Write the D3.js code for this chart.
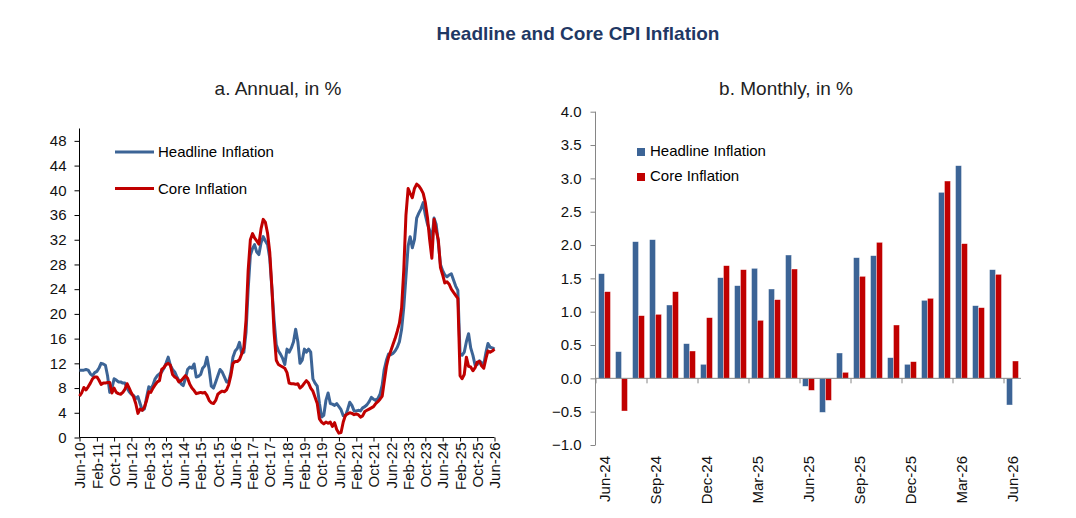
<!DOCTYPE html>
<html>
<head>
<meta charset="utf-8">
<script src="https://cdn.jsdelivr.net/npm/d3@7"></script>
<style>
  body { margin: 0; background: #fff; }
  svg { font-family: "Liberation Sans", Arial, sans-serif; }
</style>
</head>
<body>
<div id="pane"></div>
<script>
// ---- data: annual (y/y, %), monthly from Jun-10 to Jun-26
const annualStart = "Jun-10";
const annualTicks = ["Jun-10", "Feb-11", "Oct-11", "Jun-12", "Feb-13", "Oct-13", "Jun-14", "Feb-15",
  "Oct-15", "Jun-16", "Feb-17", "Oct-17", "Jun-18", "Feb-19", "Oct-19", "Jun-20", "Feb-21",
  "Oct-21", "Jun-22", "Feb-23", "Oct-23", "Jun-24", "Feb-25", "Oct-25", "Jun-26"];
const annualYTicks = [0, 4, 8, 12, 16, 20, 24, 28, 32, 36, 40, 44, 48];

const headlineAnnual = [
  10.9, 10.9, 10.9, 11.0, 10.9, 10.3, 10.0, 10.5,
  10.7, 11.2, 12.0, 11.9, 11.7, 10.0, 7.3, 8.0,
  9.5, 9.3, 9.0, 9.0, 8.8, 8.8, 8.0, 7.4,
  7.0, 6.8, 6.3, 6.6, 5.5, 4.4, 4.6, 6.5,
  8.2, 7.9, 8.5, 9.5, 10.0, 10.3, 10.6, 11.2,
  12.0, 13.0, 11.7, 11.0, 10.6, 9.9, 9.2, 8.7,
  8.4, 9.5, 11.0, 11.4, 11.2, 11.9, 9.8, 9.9,
  10.2, 11.2, 11.6, 13.0, 11.0, 8.3, 8.0, 9.0,
  10.0, 11.0, 10.6, 9.8, 9.0, 9.0, 10.5, 13.0,
  14.0, 14.4, 15.4, 13.6, 13.8, 17.0, 24.0, 29.5,
  30.6, 31.2, 30.0, 29.6, 31.5, 32.5, 31.8, 31.2,
  29.0, 24.0, 19.0, 15.0, 14.0, 13.5, 12.8, 11.8,
  14.3, 13.8, 14.5, 15.5, 17.5, 15.5, 12.0, 12.5,
  14.3, 13.8, 14.3, 13.8, 9.5, 8.8, 8.3, 5.5,
  3.3, 3.6, 6.0, 7.2, 5.5, 5.4, 5.2, 5.5,
  5.0, 4.5, 3.5, 3.5, 4.5, 5.7, 5.2, 4.3,
  4.3, 4.4, 4.3, 4.8, 5.0, 5.3, 5.8, 6.5,
  6.2, 6.0, 6.3, 7.0, 8.5, 11.0, 12.5, 13.5,
  13.4, 13.6, 14.0, 14.6, 15.5, 17.5, 21.0, 26.0,
  31.0, 32.5, 30.7, 32.0, 35.5, 36.3, 37.0, 38.0,
  36.0, 34.5, 33.5, 32.0, 35.5, 34.5, 31.5, 28.0,
  27.0, 26.3, 26.0, 26.3, 26.5, 25.5, 24.5, 23.8,
  13.5, 13.3, 13.8, 15.5, 16.8, 14.5, 13.3, 11.7,
  11.8, 12.4, 12.1, 11.8, 13.8, 15.2, 14.6, 14.5,
  14.3
];
const coreAnnual = [
  6.7, 7.2, 8.1, 7.7, 8.2, 8.8, 9.5, 9.8,
  9.8, 9.3, 8.6, 8.8, 8.8, 8.9, 8.9, 7.2,
  8.0, 7.3, 7.1, 7.0, 7.3, 7.8, 8.7, 8.0,
  7.2, 6.6, 5.5, 3.9, 4.6, 4.4, 4.9, 6.0,
  7.4, 7.3, 8.0, 8.5, 9.0, 9.2, 11.0, 11.3,
  11.8, 12.0, 11.7, 10.2, 9.8, 9.6, 9.0, 9.2,
  9.6, 10.0, 9.6, 8.6, 8.0, 7.6, 7.1, 7.2,
  7.3, 7.2, 7.3, 6.8, 6.0, 5.6, 5.5, 6.0,
  7.0, 7.3, 7.5, 7.4, 7.7, 8.5, 10.0, 12.0,
  12.3, 12.3, 12.6, 13.5, 14.5, 19.0, 27.0, 32.0,
  33.0, 32.3, 31.8, 31.3, 33.8, 35.3, 34.8, 33.0,
  30.0, 24.0, 17.0, 12.5, 11.8, 11.6, 11.4, 11.2,
  10.5, 8.8, 8.7, 8.7, 8.6, 8.7, 8.0, 8.3,
  8.8, 9.2, 8.8, 8.0, 7.5, 6.5, 5.5, 3.0,
  2.5, 2.2, 2.5, 2.3, 2.5, 1.8, 2.4, 1.3,
  0.7, 0.8, 2.5, 3.6, 3.8, 4.0, 3.9, 3.7,
  3.8, 3.7, 3.3, 3.5, 4.2, 4.4, 4.6, 4.8,
  5.0, 5.5, 5.8, 6.2, 6.7, 9.0, 11.5, 13.0,
  14.0, 15.0, 16.0, 17.2, 18.5, 21.0, 27.0, 36.0,
  40.3, 39.5, 38.8, 40.3, 41.0, 40.7, 40.2, 39.5,
  38.0, 35.5, 32.0, 29.0, 35.3, 33.5, 32.0, 27.5,
  26.3, 25.0, 25.2, 24.8, 24.0, 23.5, 23.0, 22.5,
  10.0, 9.5, 10.2, 13.0, 11.5, 11.4, 10.8, 11.3,
  12.2, 12.3, 11.6, 11.2, 12.8, 14.0, 13.8, 14.0,
  14.3
];

// ---- data: monthly (m/m, %)
const monthlyCats = ["Jun-24", "Jul-24", "Aug-24", "Sep-24", "Oct-24", "Nov-24", "Dec-24",
  "Jan-25", "Feb-25", "Mar-25", "Apr-25", "May-25", "Jun-25", "Jul-25", "Aug-25", "Sep-25",
  "Oct-25", "Nov-25", "Dec-25", "Jan-26", "Feb-26", "Mar-26", "Apr-26", "May-26", "Jun-26"];
const monthlyTicks = ["Jun-24", "Sep-24", "Dec-24", "Mar-25", "Jun-25", "Sep-25", "Dec-25", "Mar-26", "Jun-26"];
const monthlyYTicks = [-1.0, -0.5, 0.0, 0.5, 1.0, 1.5, 2.0, 2.5, 3.0, 3.5, 4.0];
const headlineMonthly = [1.57, 0.40, 2.05, 2.08, 1.10, 0.52, 0.21, 1.51, 1.39, 1.65, 1.34, 1.85,
  -0.12, -0.51, 0.38, 1.81, 1.84, 0.31, 0.21, 1.17, 2.79, 3.19, 1.09, 1.63, -0.40];
const coreMonthly = [1.30, -0.49, 0.94, 0.96, 1.30, 0.41, 0.91, 1.69, 1.63, 0.87, 1.18, 1.64,
  -0.18, -0.33, 0.09, 1.53, 2.04, 0.80, 0.25, 1.20, 2.96, 2.02, 1.06, 1.56, 0.26];

const blue = "#3c6496", red = "#c00000";
const W = 1076, H = 518;
const tickFont = "15px";

const svg = d3.select("#pane").append("svg").attr("width", W).attr("height", H);

svg.append("text")
  .attr("x", 578).attr("y", 40)
  .attr("text-anchor", "middle")
  .style("font-size", "19px").style("font-weight", "bold").style("fill", "#1f3864")
  .text("Headline and Core CPI Inflation");

// ================= a. Annual =================
const parseM = d3.timeParse("%b-%y");
const t0 = parseM(annualStart);
const dates = headlineAnnual.map((_, i) => d3.timeMonth.offset(t0, i));

const xA = d3.scaleTime().domain([t0, parseM(annualTicks[annualTicks.length - 1])]).range([79.5, 494.5]);
const yA = d3.scaleLinear().domain([0, 50]).range([437.5, 128.5]);

svg.append("text")
  .attr("x", 278).attr("y", 95).attr("text-anchor", "middle")
  .style("font-size", "19px").style("fill", "#222")
  .text("a. Annual, in %");

const gA = svg.append("g");

const yAxisA = gA.append("g")
  .attr("transform", `translate(${xA.range()[0]},0)`)
  .call(d3.axisLeft(yA).tickValues(annualYTicks).tickSize(5).tickPadding(8).tickFormat(d3.format("d")));
yAxisA.select(".domain").attr("d", `M0,${yA(50)}V${yA(0)}`).attr("stroke", "#000");

const xAxisA = gA.append("g")
  .attr("transform", `translate(0,${yA(0)})`)
  .call(d3.axisBottom(xA).tickValues(annualTicks.map(parseM)).tickSize(4)
    .tickFormat(d3.timeFormat("%b-%y")));
xAxisA.select(".domain").attr("d", `M${xA.range()[0]},0H${xA.range()[1]}`).attr("stroke", "#000");
xAxisA.selectAll("text")
  .attr("transform", "rotate(-90)")
  .attr("text-anchor", "end")
  .attr("x", -5).attr("y", 0).attr("dy", "0.35em");

[yAxisA, xAxisA].forEach(a => {
  a.selectAll("text").style("font-size", tickFont).style("fill", "#111").style("font-family", null);
  a.selectAll(".tick line").attr("stroke", "#000");
});

const line = d3.line().x((d, i) => xA(dates[i])).y(d => yA(d));

gA.append("path").datum(headlineAnnual)
  .attr("fill", "none").attr("stroke", blue).attr("stroke-width", 3)
  .attr("stroke-linejoin", "round").attr("d", line);
gA.append("path").datum(coreAnnual)
  .attr("fill", "none").attr("stroke", red).attr("stroke-width", 3)
  .attr("stroke-linejoin", "round").attr("d", line);

// legend
const legA = [{ name: "Headline Inflation", c: blue, y: 152 }, { name: "Core Inflation", c: red, y: 188.5 }];
legA.forEach(l => {
  gA.append("line").attr("x1", 115).attr("x2", 154).attr("y1", l.y).attr("y2", l.y)
    .attr("stroke", l.c).attr("stroke-width", 3);
  gA.append("text").attr("x", 158).attr("y", l.y + 5)
    .style("font-size", "15px").style("fill", "#000").text(l.name);
});

// ================= b. Monthly =================
const xB = d3.scaleBand().domain(monthlyCats).range([596, 1021]).paddingInner(0.3).paddingOuter(0.15);
const xSub = d3.scaleBand().domain(["h", "c"]).range([0, xB.bandwidth()]);
const yB = d3.scaleLinear().domain([-1, 4]).range([445, 111.7]);

svg.append("text")
  .attr("x", 786).attr("y", 95).attr("text-anchor", "middle")
  .style("font-size", "19px").style("fill", "#222")
  .text("b. Monthly, in %");

const gB = svg.append("g");
const axisGrey = "#868686";

const yAxisB = gB.append("g")
  .attr("transform", "translate(595.5,0)")
  .call(d3.axisLeft(yB).tickValues(monthlyYTicks).tickSize(5).tickPadding(9).tickFormat(d3.format(".1f")));
yAxisB.select(".domain").attr("d", `M0,${yB(4)}V${yB(-1)}`).attr("stroke", axisGrey);
yAxisB.selectAll(".tick line").attr("stroke", axisGrey);

const bars = gB.append("g");
monthlyCats.forEach((m, i) => {
  [["h", headlineMonthly[i], blue], ["c", coreMonthly[i], red]].forEach(([k, v, c]) => {
    bars.append("rect")
      .attr("x", xB(m) + xSub(k))
      .attr("width", xSub.bandwidth())
      .attr("y", yB(Math.max(0, v)))
      .attr("height", Math.abs(yB(v) - yB(0)))
      .attr("fill", c)
      .attr("stroke", "#fff").attr("stroke-opacity", 0.6).attr("stroke-width", 0.6);
  });
});

// horizontal zero axis with ticks at quarter boundaries
const step = xB.step();
const zeroAxis = gB.append("g").attr("transform", `translate(0,${yB(0)})`);
zeroAxis.append("path").attr("d", `M595.5,0H1021`).attr("stroke", axisGrey).attr("fill", "none");
monthlyTicks.forEach(t => {
  const bx = xB.range()[0] + monthlyCats.indexOf(t) * step;
  zeroAxis.append("line").attr("x1", bx).attr("x2", bx).attr("y1", 0).attr("y2", 5).attr("stroke", axisGrey);
});

// category labels below the plot
const labB = gB.append("g");
monthlyTicks.forEach(t => {
  const cx = xB.range()[0] + (monthlyCats.indexOf(t) + 0.5) * step;
  labB.append("text")
    .attr("transform", `translate(${cx},456) rotate(-90)`)
    .attr("text-anchor", "end").attr("dy", "0.35em")
    .style("font-size", tickFont).style("fill", "#111")
    .text(t);
});

yAxisB.selectAll("text").style("font-size", tickFont).style("fill", "#111").style("font-family", null);

// legend
const legB = [{ name: "Headline Inflation", c: blue, y: 148 }, { name: "Core Inflation", c: red, y: 173 }];
legB.forEach(l => {
  gB.append("rect").attr("x", 637).attr("y", l.y).attr("width", 8).attr("height", 8).attr("fill", l.c);
  gB.append("text").attr("x", 650).attr("y", l.y + 8)
    .style("font-size", "15px").style("fill", "#000").text(l.name);
});
</script>
</body>
</html>
